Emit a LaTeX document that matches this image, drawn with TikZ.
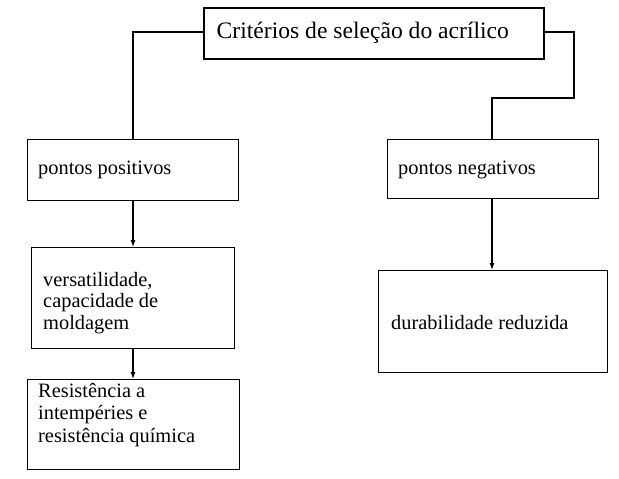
\documentclass[tikz,border=0pt]{standalone}
\usepackage{fontspec}
\setmainfont{Liberation Serif}
\usetikzlibrary{arrows.meta,positioning}
\begin{document}
\begin{tikzpicture}[x=1pt,y=-1pt,
  box/.style={draw=black,line width=1.3pt,rectangle,inner sep=0pt,anchor=north west},
  topbox/.style={draw=black,line width=2.4pt,rectangle,inner sep=0pt,anchor=north west},
  txt/.style={anchor=west,inner sep=0pt,align=left,font=\fontsize{20.4}{22.5}\selectfont},
  conn/.style={line width=1.1pt},
  arr/.style={line width=1.1pt,-{Latex[length=7pt,width=5pt]}}]
\useasboundingbox (0,0) rectangle (619,479);
% boxes
\node[topbox,minimum width=340pt,minimum height=51pt] (top) at (203,7) {};
\node[box,minimum width=211pt,minimum height=61pt] (pos) at (27,139) {};
\node[box,minimum width=211pt,minimum height=59pt] (neg) at (387,139) {};
\node[box,minimum width=203pt,minimum height=101pt] (vers) at (31,247) {};
\node[box,minimum width=212pt,minimum height=90pt] (res) at (27,379) {};
\node[box,minimum width=229pt,minimum height=102pt] (dur) at (378,270) {};
% texts
\node[anchor=west,inner sep=0pt,font=\fontsize{23.6}{26}\selectfont] (ttop) at (216.5,33) {Critérios de seleção do acrílico};
\node[txt] (tpos) at (38,170) {pontos positivos};
\node[txt] (tneg) at (398,170) {pontos negativos};
\node[txt,font=\fontsize{20.4}{21.6}\selectfont] (tvers) at (43,303) {versatilidade,\\capacidade de\\moldagem};
\node[txt] (tres) at (38,415) {Resistência a\\intempéries e\\resistência química};
\node[txt] (tdur) at (391,323) {durabilidade reduzida};
% connectors
\coordinate (l1) at (133,32);
\coordinate (r1) at (574,32);
\coordinate (r2) at (574,98);
\coordinate (r3) at (492,98);
\draw[conn] (top.west |- l1) -- (l1) -- (l1 |- pos.north);
\draw[conn] (top.east |- r1) -- (r1) -- (r2) -- (r3) -- (r3 |- neg.north);
\draw[arr] (l1 |- pos.south) -- (l1 |- vers.north);
\draw[arr] (l1 |- vers.south) -- (l1 |- res.north);
\draw[arr] (r3 |- neg.south) -- (r3 |- dur.north);
\end{tikzpicture}
\end{document}
